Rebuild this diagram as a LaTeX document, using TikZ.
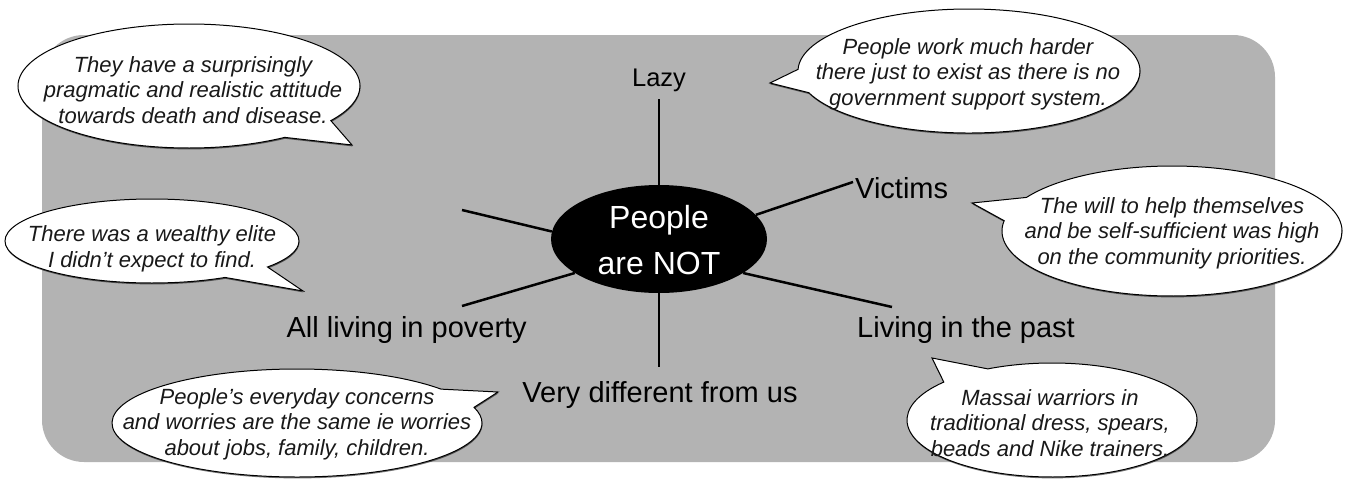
\documentclass[tikz,border=0pt]{standalone}
\usepackage{fontspec}
\setmainfont{Liberation Sans}
\usetikzlibrary{shapes.callouts,shapes.geometric,shadows}
\definecolor{bggray}{RGB}{179,179,179}
\definecolor{ctextcol}{RGB}{25,25,25}
\tikzset{
  lbl/.style={font=\fontsize{29}{32}\selectfont, text=black, inner sep=0pt},
  ctext/.style={font=\fontsize{22}{25.5}\selectfont\itshape, align=center, inner sep=0pt, text=ctextcol},
  bubble/.style={ellipse callout, draw=black, fill=white, line width=1pt, inner sep=0pt, callout pointer arc=22,
    drop shadow={shadow xshift=0.4pt, shadow yshift=-1.4pt, fill=black, opacity=0.55}},
  spoke/.style={line width=2.5pt},
  hub/.style={ellipse, fill=black, inner sep=0pt, minimum width=216pt, minimum height=108pt},
  hubtext/.style={font=\fontsize{32}{46}\selectfont, text=white, align=center, inner sep=0pt}
}
\begin{document}
\begin{tikzpicture}[x=1pt,y=-1pt]
\useasboundingbox (0,0) rectangle (1352,479);
\fill[bggray, rounded corners=42pt] (42,35) rectangle (1275,462);

% spokes ends
\coordinate (eLazy) at (659,99);
\coordinate (eVic) at (853,182);
\coordinate (ePast) at (892,307);
\coordinate (eVery) at (659,367);
\coordinate (eUL) at (462,210);
\coordinate (eLL) at (462,306);

\node[hub] (c) at (659,239) {};
\draw[spoke] (c.north) -- (eLazy);
\draw[spoke] (c.14) -- (eVic);
\draw[spoke] (c.-22) -- (ePast);
\draw[spoke] (c.south) -- (eVery);
\draw[spoke] (c.176) -- (eUL);
\draw[spoke] (c.202) -- (eLL);
\node[hubtext] (ctext) at (659,240) {People\\are NOT};

% labels
\node[lbl, font=\fontsize{25.5}{28}\selectfont, anchor=base] (lazy) at (659,86) {Lazy};
\node[lbl, anchor=base west] (victims) at (855,198) {Victims};
\node[lbl, anchor=base west] (past) at (857,337) {Living in the past};
\node[lbl, anchor=base] (verydiff) at (660,402) {Very different from us};
\node[lbl, anchor=base east] (poverty) at (527,337) {All living in poverty};

% callouts
\node[bubble, minimum width=342pt, minimum height=124pt, callout absolute pointer={(352,145)}] (b1) at (189,86) {};
\node[ctext] (t1) at (193,90) {They have a surprisingly\\pragmatic and realistic attitude\\towards death and disease.};

\node[bubble, minimum width=342pt, minimum height=124pt, callout absolute pointer={(770,83)}] (b2) at (969,71) {};
\node[ctext] (t2) at (968,74) {People work much harder\\there just to exist as there is no\\government support system.};

\node[bubble, minimum width=294pt, minimum height=84pt, callout absolute pointer={(303,291)}] (b3) at (152,241) {};
\node[ctext] (t3) at (152,249) {There was a wealthy elite\\I didn't expect to find.};

\node[bubble, minimum width=340pt, minimum height=130pt, callout absolute pointer={(972,203)}] (b4) at (1172,231) {};
\node[ctext] (t4) at (1172,233) {The will to help themselves\\and be self-sufficient was high\\on the community priorities.};

\node[bubble, minimum width=370pt, minimum height=108pt, callout absolute pointer={(498,392)}] (b5) at (297,423) {};
\node[ctext] (t5) at (297,424) {People's everyday concerns\\and worries are the same ie worries\\about jobs, family, children.};

\node[bubble, minimum width=290pt, minimum height=114pt, callout absolute pointer={(932,358)}] (b6) at (1052,420) {};
\node[ctext] (t6) at (1050,423) {Massai warriors in\\traditional dress, spears,\\beads and Nike trainers.};
\end{tikzpicture}
\end{document}
